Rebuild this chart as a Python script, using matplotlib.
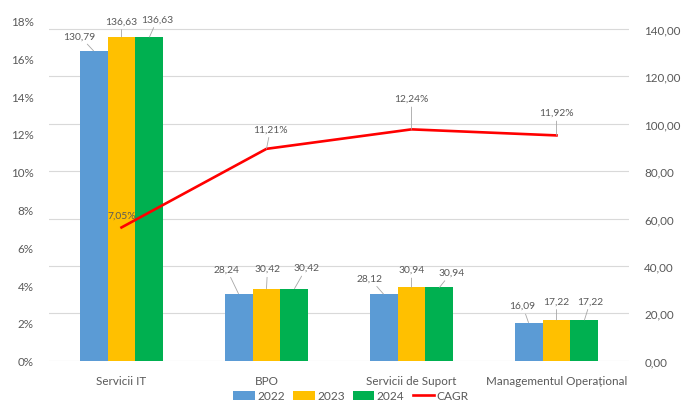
import matplotlib.pyplot as plt
import numpy as np
from matplotlib.ticker import FuncFormatter

plt.rcParams['font.family'] = ['Lato', 'DejaVu Sans']

categories = ['Servicii IT', 'BPO', 'Servicii de Suport', 'Managementul Operațional']
years = ['2022', '2023', '2024']
values_2022 = [130.79, 28.24, 28.12, 16.09]
values_2023 = [136.63, 30.42, 30.94, 17.22]
values_2024 = [136.63, 30.42, 30.94, 17.22]
cagr = [7.05, 11.21, 12.24, 11.92]

colors = ['#5B9BD5', '#FFC000', '#00B050']
text_col = '#595959'
grid_col = '#D9D9D9'

# label offsets in pixels (dx, dy) from the bar top, per series and category
bar_label_offsets = [
    [(-14, 15), (-12, 25), (-14, 16), (-6, 17)],
    [(0, 16), (1, 20), (0, 18), (0, 19)],
    [(8, 18), (12, 21), (12, 15), (6, 19)],
]
cagr_label_offsets = [(0, 12), (4, 20), (0, 31), (0, 23)]


def fmt_num(v):
    return f"{v:.2f}".replace('.', ',')


fig = plt.figure(figsize=(6.89, 4.06), dpi=100)
ax_bar = fig.add_axes([49 / 689, 44.3 / 406, 580 / 689, 340.2 / 406])
ax_line = ax_bar.twinx()

x = np.arange(len(categories))
width = 0.193
series = [values_2022, values_2023, values_2024]
for i, (vals, col, yr) in enumerate(zip(series, colors, years)):
    xs = x + (i - 1) * width
    ax_bar.bar(xs, vals, width=width, color=col, label=yr, zorder=2)
    for j, (xx, v) in enumerate(zip(xs, vals)):
        dx, dy = bar_label_offsets[i][j]
        ax_bar.annotate(fmt_num(v), (xx, v), xytext=(dx, dy), textcoords='offset pixels',
                        ha='center', va='center', fontsize=7.4, color=text_col,
                        arrowprops=dict(arrowstyle='-', color='#A6A6A6', lw=0.6,
                                        shrinkA=1, shrinkB=0),
                        zorder=5)

ax_line.plot(x, cagr, color='#FF0000', lw=1.9, label='CAGR', zorder=3)
for j, (xx, v) in enumerate(zip(x, cagr)):
    dx, dy = cagr_label_offsets[j]
    props = None if j == 0 else dict(arrowstyle='-', color='#A6A6A6', lw=0.6, shrinkA=1, shrinkB=0)
    ax_line.annotate(f"{v:.2f}%".replace('.', ','), (xx, v), xytext=(dx, dy),
                     textcoords='offset pixels', ha='center', va='center',
                     fontsize=7.4, color=text_col, arrowprops=props)

# bars drawn against the 0-140 scale shown on the right
ax_bar.set_xlim(-0.5, len(categories) - 0.5)
ax_bar.set_ylim(0, 140 * 340.2 / 331.7)
ax_bar.set_yticks(np.arange(0, 141, 20))
ax_bar.yaxis.set_major_formatter(FuncFormatter(lambda v, p: fmt_num(v)))
ax_bar.yaxis.tick_right()
ax_bar.yaxis.set_label_position('right')
ax_bar.grid(axis='y', color=grid_col, lw=0.8, zorder=0)
ax_bar.set_axisbelow(True)

ax_line.set_ylim(0, 18)
ax_line.set_yticks(np.arange(0, 19, 2))
ax_line.yaxis.set_major_formatter(FuncFormatter(lambda v, p: f"{v:.0f}%"))
ax_line.yaxis.tick_left()

ax_bar.set_xticks(x)
ax_bar.set_xticklabels(categories)

for a in (ax_bar, ax_line):
    for s in a.spines.values():
        s.set_visible(False)
    a.tick_params(length=0, colors=text_col, labelsize=8.4)
ax_bar.tick_params(axis='x', pad=10)
ax_bar.tick_params(axis='y', pad=11)
ax_line.tick_params(axis='y', pad=11)

h1, l1 = ax_bar.get_legend_handles_labels()
h2, l2 = ax_line.get_legend_handles_labels()
leg = fig.legend(h1 + h2, l1 + l2, loc='center', bbox_to_anchor=(351 / 689, 9 / 406),
                 ncol=4, frameon=False, fontsize=8.6, handlelength=1.8,
                 handletextpad=0.2, columnspacing=0.7, labelcolor=text_col)

plt.savefig('out.png', dpi=100)
plt.close()
